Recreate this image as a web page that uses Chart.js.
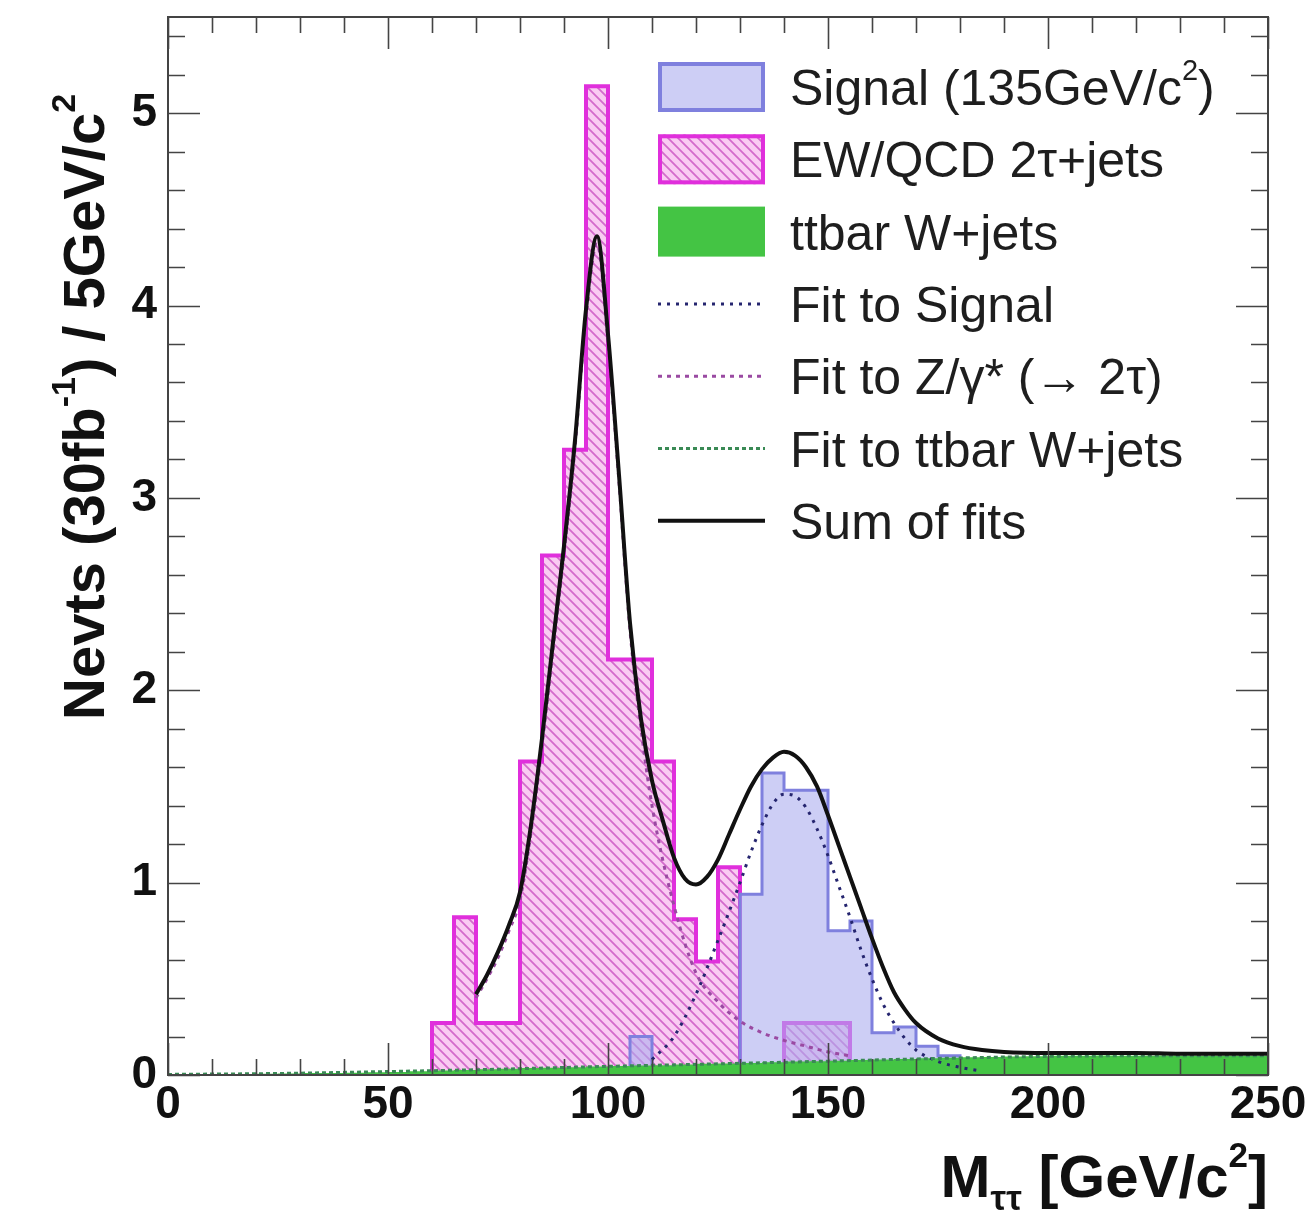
<!DOCTYPE html>
<html>
<head>
<meta charset="utf-8">
<script src="https://cdn.jsdelivr.net/npm/chart.js@4.4.0/dist/chart.umd.min.js"></script>
<style>
  html, body { margin: 0; padding: 0; background: #fff; }
  canvas { display: block; }
</style>
</head>
<body>
<canvas id="massChart" width="1313" height="1217"></canvas>
<script>
// ---- data (5 GeV/c^2 bins, 0..250) ----
const binEdges = [0, 5, 10, 15, 20, 25, 30, 35, 40, 45, 50, 55, 60, 65, 70, 75, 80, 85, 90, 95,
  100, 105, 110, 115, 120, 125, 130, 135, 140, 145, 150, 155, 160, 165, 170, 175, 180, 185, 190, 195,
  200, 205, 210, 215, 220, 225, 230, 235, 240, 245, 250];

const ewQcdCounts = [0, 0, 0, 0, 0, 0, 0, 0, 0, 0, 0, 0,
  0.27, 0.82, 0.27, 0.27, 1.63, 2.70, 3.25, 5.14, 2.16, 2.16, 1.63, 0.81, 0.59, 1.08, 0, 0, 0.27, 0.27, 0.27,
  0, 0, 0, 0, 0, 0, 0, 0, 0, 0, 0, 0, 0, 0, 0, 0, 0, 0, 0];

const signalCounts = [0, 0, 0, 0, 0, 0, 0, 0, 0, 0, 0, 0, 0, 0, 0, 0, 0, 0, 0, 0, 0,
  0.20, 0, 0, 0, 0,
  0.94, 1.57, 1.48, 1.48, 0.75, 0.80, 0.22, 0.25, 0.15, 0.10, 0.06,
  0, 0, 0, 0, 0, 0, 0, 0, 0, 0, 0, 0, 0];

const ttbarCounts = [0.002, 0.003, 0.004, 0.005, 0.007, 0.008, 0.010, 0.011, 0.012, 0.014,
  0.016, 0.020, 0.024, 0.026, 0.030, 0.032, 0.036, 0.038, 0.040, 0.044,
  0.047, 0.050, 0.051, 0.055, 0.058, 0.060, 0.062, 0.066, 0.070, 0.071,
  0.074, 0.078, 0.080, 0.083, 0.087, 0.090, 0.092, 0.093, 0.096, 0.098,
  0.100, 0.100, 0.101, 0.100, 0.100, 0.101, 0.100, 0.100, 0.100, 0.100];

// fitted curves
const sumFitX = [70, 72.5, 75, 77.5, 80, 82.5, 85, 87.5, 90, 92.5, 95, 97.5, 100, 102.5, 105, 107.5, 110,
  112.5, 115, 117.5, 120, 122.5, 125, 127.5, 130, 132.5, 135, 137.5, 140, 142.5, 145, 147.5, 150,
  152.5, 155, 157.5, 160, 162.5, 165, 167.5, 170, 175, 180, 185, 190, 200, 210, 220, 230, 240, 250];
const sumFitY = [0.42, 0.52, 0.64, 0.78, 0.95, 1.30, 1.75, 2.25, 2.75, 3.30, 3.98, 4.36, 3.85, 3.12, 2.35, 1.85, 1.53,
  1.32, 1.13, 1.02, 0.99, 1.03, 1.12, 1.25, 1.38, 1.50, 1.59, 1.65, 1.68, 1.66, 1.60, 1.50, 1.35,
  1.19, 1.03, 0.87, 0.71, 0.56, 0.43, 0.34, 0.27, 0.19, 0.15, 0.13, 0.12, 0.115, 0.115, 0.115, 0.11, 0.11, 0.11];

const signalFitX = [110, 115, 120, 125, 130, 132.5, 135, 137.5, 140, 142.5, 145, 147.5, 150, 152.5, 155,
  157.5, 160, 162.5, 165, 167.5, 170, 175, 180, 185];
const signalFitY = [0.08, 0.20, 0.42, 0.70, 1.00, 1.16, 1.30, 1.41, 1.46, 1.45, 1.39, 1.28, 1.14, 0.98, 0.82,
  0.65, 0.50, 0.37, 0.27, 0.19, 0.13, 0.07, 0.04, 0.02];

const zFitX = [70, 72.5, 75, 77.5, 80, 82.5, 85, 87.5, 90, 92.5, 95, 97.5, 100, 102.5, 105, 107.5, 110,
  115, 120, 125, 130, 135, 140, 145, 150, 155];
const zFitY = [0.40, 0.50, 0.61, 0.75, 0.91, 1.26, 1.71, 2.21, 2.71, 3.26, 3.94, 4.32, 3.81, 3.08, 2.31, 1.80, 1.40,
  0.88, 0.53, 0.38, 0.28, 0.22, 0.18, 0.15, 0.12, 0.10];

const ttbarFitX = [0, 25, 50, 75, 100, 125, 150, 175, 200, 225, 250];
const ttbarFitY = [0.003, 0.008, 0.018, 0.030, 0.045, 0.058, 0.072, 0.086, 0.097, 0.100, 0.100];

const xTitleParts = [["M"], ["ττ", "sub"], [" [GeV/c"], ["2", "sup"], ["]"]];
const yTitleParts = [["Nevts (30fb"], ["-1", "sup"], [") / 5GeV/c"], ["2", "sup"]];

// ---- helpers ----
const FONT = '"Liberation Sans", Arial, sans-serif';

// stepped outline of a histogram, trimmed to the filled bins
function histPoints(counts) {
  let first = counts.findIndex((v) => v > 0);
  let last = counts.length - 1;
  while (last > 0 && counts[last] <= 0) last--;
  const pts = [{ x: binEdges[first], y: 0 }];
  for (let i = first; i <= last; i++) pts.push({ x: binEdges[i], y: counts[i] });
  pts.push({ x: binEdges[last + 1], y: 0 });
  return pts;
}

function curvePoints(xs, ys) {
  return xs.map((x, i) => ({ x: x, y: ys[i] }));
}

const canvas = document.getElementById("massChart");
const ctx0 = canvas.getContext("2d");

function makeHatch() {
  const s = 10;
  const c = document.createElement("canvas");
  c.width = s;
  c.height = s;
  const g = c.getContext("2d");
  g.fillStyle = "#f9cbf2";
  g.fillRect(0, 0, s, s);
  g.strokeStyle = "#d36acb";
  g.lineWidth = 1.8;
  g.beginPath();
  g.moveTo(-s / 2, s / 2); g.lineTo(s / 2, s * 1.5);
  g.moveTo(0, 0); g.lineTo(s, s);
  g.moveTo(s / 2, -s / 2); g.lineTo(s * 1.5, s / 2);
  g.stroke();
  return ctx0.createPattern(c, "repeat");
}
const hatch = makeHatch();

const SUP = { "²": "2", "⁻": "-", "¹": "1" };
function labelParts(text) {
  const parts = [];
  for (const ch of text) {
    const kind = ch in SUP ? "sup" : undefined;
    const t = kind ? SUP[ch] : ch;
    const last = parts[parts.length - 1];
    if (last && last[1] === kind) last[0] += t;
    else parts.push([t, kind]);
  }
  return parts;
}

function richWidth(ctx, parts, size, weight) {
  let w = 0;
  parts.forEach(([t, kind]) => {
    ctx.font = `${weight} ${kind ? Math.round(size * 0.58) : size}px ${FONT}`;
    w += ctx.measureText(t).width;
  });
  return w;
}

function drawRich(ctx, parts, x, y, size, weight) {
  ctx.textAlign = "left";
  ctx.textBaseline = "alphabetic";
  parts.forEach(([t, kind]) => {
    const fs = kind ? Math.round(size * 0.58) : size;
    ctx.font = `${weight} ${fs}px ${FONT}`;
    let dy = 0;
    if (kind === "sup") dy = -size * 0.5;
    if (kind === "sub") dy = size * 0.22;
    ctx.fillText(t, x, y + dy);
    x += ctx.measureText(t).width;
  });
}

// ROOT-like frame with inward ticks on all four sides
const frameTicks = {
  id: "frameTicks",
  afterDatasetsDraw(chart) {
    const { ctx, chartArea: a, scales } = chart;
    ctx.save();
    ctx.strokeStyle = "#444";
    ctx.lineWidth = 2;
    ctx.strokeRect(a.left, a.top, a.right - a.left, a.bottom - a.top);
    ctx.beginPath();
    for (let v = 0; v <= 250; v += 10) {
      const px = Math.round(scales.x.getPixelForValue(v)) + 0.5;
      const len = v % 50 === 0 ? 32 : 16;
      ctx.moveTo(px, a.bottom); ctx.lineTo(px, a.bottom - len);
      ctx.moveTo(px, a.top); ctx.lineTo(px, a.top + len);
    }
    for (let k = 0; k <= 27; k++) {
      const v = k * 0.2;
      const py = Math.round(scales.y.getPixelForValue(v)) + 0.5;
      const len = k % 5 === 0 ? 32 : 17;
      ctx.moveTo(a.left, py); ctx.lineTo(a.left + len, py);
      ctx.moveTo(a.right, py); ctx.lineTo(a.right - len, py);
    }
    ctx.lineWidth = 1.6;
    ctx.stroke();
    ctx.restore();
  },
};

// legend drawn inside the frame, top right
const insideLegend = {
  id: "insideLegend",
  afterDraw(chart) {
    const ctx = chart.ctx;
    const boxL = 658, boxR = 765, textX = 790;
    ctx.save();
    chart.data.datasets.forEach((ds, i) => {
      const cy = 87 + i * 72.3;
      if (ds.legendKind === "box") {
        ctx.fillStyle = ds.backgroundColor;
        ctx.fillRect(boxL, cy - 25, boxR - boxL, 50);
        if (ds.borderWidth > 0) {
          ctx.strokeStyle = ds.borderColor;
          ctx.lineWidth = 4;
          ctx.strokeRect(boxL + 2, cy - 23, boxR - boxL - 4, 46);
        }
      } else {
        ctx.strokeStyle = ds.borderColor;
        ctx.lineWidth = ds.borderWidth;
        ctx.setLineDash(ds.borderDash || []);
        ctx.beginPath();
        ctx.moveTo(boxL, cy);
        ctx.lineTo(boxR, cy);
        ctx.stroke();
        ctx.setLineDash([]);
      }
      ctx.fillStyle = "#1e1e1e";
      drawRich(ctx, labelParts(ds.label), textX, cy + 18, 50, "normal");
    });
    ctx.restore();
  },
};

// axis titles with sub/superscripts
const axisTitles = {
  id: "axisTitles",
  afterDraw(chart) {
    const ctx = chart.ctx;
    ctx.save();
    ctx.fillStyle = "#111";
    const w = richWidth(ctx, xTitleParts, 60, "bold");
    drawRich(ctx, xTitleParts, 1268 - w, 1197, 60, "bold");
    ctx.translate(104, 720);
    ctx.rotate(-Math.PI / 2);
    drawRich(ctx, yTitleParts, 0, 0, 58, "bold");
    ctx.restore();
  },
};

const tickFont = { family: FONT, size: 46, weight: "bold" };

new Chart(canvas, {
  type: "line",
  data: {
    datasets: [
      {
        label: "Signal (135GeV/c²)",
        legendKind: "box",
        data: histPoints(signalCounts),
        stepped: true,
        fill: "origin",
        backgroundColor: "rgba(172, 174, 238, 0.6)",
        borderColor: "#7f80de",
        borderWidth: 3,
        order: 6,
      },
      {
        label: "EW/QCD 2τ+jets",
        legendKind: "box",
        data: histPoints(ewQcdCounts),
        stepped: true,
        fill: "origin",
        backgroundColor: hatch,
        borderColor: "#e02fdc",
        borderWidth: 4,
        order: 7,
      },
      {
        label: "ttbar W+jets",
        legendKind: "box",
        data: histPoints(ttbarCounts),
        stepped: true,
        fill: "origin",
        backgroundColor: "#44c444",
        borderColor: "#33a633",
        borderWidth: 0,
        order: 5,
      },
      {
        label: "Fit to Signal",
        data: curvePoints(signalFitX, signalFitY),
        cubicInterpolationMode: "monotone",
        borderColor: "#25256f",
        borderWidth: 3,
        borderDash: [3, 6],
        fill: false,
        order: 4,
      },
      {
        label: "Fit to Z/γ* (→ 2τ)",
        data: curvePoints(zFitX, zFitY),
        cubicInterpolationMode: "monotone",
        borderColor: "#9a4aa2",
        borderWidth: 3,
        borderDash: [4, 5],
        fill: false,
        order: 3,
      },
      {
        label: "Fit to ttbar W+jets",
        data: curvePoints(ttbarFitX, ttbarFitY),
        cubicInterpolationMode: "monotone",
        borderColor: "#3a8a55",
        borderWidth: 3,
        borderDash: [4, 3],
        fill: false,
        order: 2,
      },
      {
        label: "Sum of fits",
        data: curvePoints(sumFitX, sumFitY),
        cubicInterpolationMode: "monotone",
        borderColor: "#111111",
        borderWidth: 4,
        fill: false,
        order: 1,
      },
    ],
  },
  options: {
    responsive: false,
    animation: false,
    devicePixelRatio: 1,
    layout: { padding: { top: 17, right: 45, left: 0, bottom: 0 } },
    elements: { point: { radius: 0, hoverRadius: 0 } },
    plugins: {
      legend: { display: false },
      tooltip: { enabled: false },
    },
    scales: {
      x: {
        type: "linear",
        min: 0,
        max: 250,
        grid: { display: false, drawTicks: false },
        border: { display: false },
        ticks: { stepSize: 50, autoSkip: false, maxRotation: 0, padding: 3, color: "#111", font: tickFont },
        afterFit: (s) => {
          s.height = 142;
          s.paddingLeft = 0;
          s.paddingRight = 0;
        },
      },
      y: {
        type: "linear",
        min: 0,
        max: 5.5,
        grid: { display: false, drawTicks: false },
        border: { display: false },
        ticks: { stepSize: 1, includeBounds: false, padding: 11, color: "#111", font: tickFont },
        afterFit: (s) => {
          s.width = 168;
          s.paddingTop = 0;
          s.paddingBottom = 0;
        },
      },
    },
  },
  plugins: [frameTicks, insideLegend, axisTitles],
});
</script>
</body>
</html>
